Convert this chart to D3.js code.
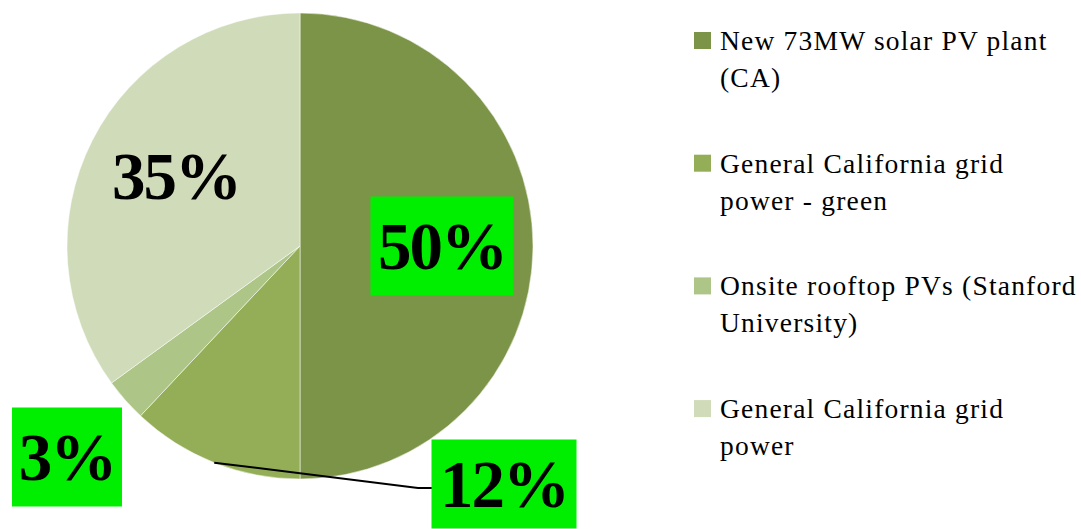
<!DOCTYPE html>
<html>
<head>
<meta charset="utf-8">
<script src="https://cdn.jsdelivr.net/npm/d3@7"></script>
<style>
  body { margin: 0; background: #fff; }
  text { font-family: "Palatino Linotype", "Book Antiqua", Palatino, "Liberation Serif", serif; }
</style>
</head>
<body>
<div id="target"></div>
<script>
const categories = [
  "New 73MW solar PV plant (CA)",
  "General California grid power - green",
  "Onsite rooftop PVs (Stanford University)",
  "General California grid power"
];
const values = [50, 12, 3, 35];
const legendLines = [
  ["New 73MW solar PV plant", "(CA)"],
  ["General California grid", "power - green"],
  ["Onsite rooftop PVs (Stanford", "University)"],
  ["General California grid", "power"]
];
const colors = ["#7c9447", "#93ae56", "#adc688", "#cfdbb9"];

const width = 1081,
  height = 529,
  cx = 300,
  cy = 246,
  radius = 233;

let svg = d3.select("#target").append("svg")
  .attr("width", width)
  .attr("height", height);

let pie = d3.pie().sort(null).value((d) => d);
let arcs = pie(values);
let arc = d3.arc().innerRadius(0).outerRadius(radius);

let g = svg.append("g")
  .attr("transform", `translate(${cx},${cy})`);

g.selectAll("path")
  .data(arcs)
  .enter().append("path")
  .attr("d", arc)
  .style("fill", (d, i) => colors[i])
  .style("stroke", "#fff")
  .style("stroke-opacity", 0.5)
  .style("stroke-width", 1);

// label boxes (offsets relative to pie centre)
const labelPos = [
  {x: 142, y: 0, w: 143, h: 99, box: true},
  {x: 204, y: 238, w: 145, h: 89, box: true},
  {x: -233, y: 211, w: 110, h: 99, box: true},
  {x: -124, y: -70, w: 0, h: 0, box: false}
];

// leader line for 12% slice
let mid = (arcs[1].startAngle + arcs[1].endAngle) / 2;
let p0 = [Math.sin(mid) * radius, -Math.cos(mid) * radius];
g.append("polyline")
  .attr("points", [p0, [118, 242], [132, 242]].map((p) => p.join(",")).join(" "))
  .style("fill", "none")
  .style("stroke", "#000")
  .style("stroke-width", 2);

let labels = g.selectAll("g.lbl")
  .data(arcs)
  .enter().append("g")
  .attr("class", "lbl")
  .attr("transform", (d, i) => `translate(${labelPos[i].x},${labelPos[i].y})`);

labels.filter((d, i) => labelPos[i].box)
  .append("rect")
  .attr("x", (d, i) => -labelPos[i].w / 2)
  .attr("y", (d, i) => -labelPos[i].h / 2)
  .attr("width", (d, i) => labelPos[i].w)
  .attr("height", (d, i) => labelPos[i].h)
  .style("fill", "#00ee00");

labels.append("text")
  .attr("text-anchor", "middle")
  .attr("dy", 23)
  .style("font-size", "67px")
  .style("font-weight", "bold")
  .style("letter-spacing", "-2px")
  .style("fill", "#000")
  .text((d) => d.data + "%");

// legend
let legend = svg.append("g")
  .attr("transform", "translate(694,40)");

let item = legend.selectAll("g")
  .data(categories)
  .enter().append("g")
  .attr("transform", (d, i) => `translate(0,${i * 122.7})`);

item.append("rect")
  .attr("x", 0)
  .attr("y", -8)
  .attr("width", 17)
  .attr("height", 17)
  .style("fill", (d, i) => colors[i]);

item.append("text")
  .attr("x", 26)
  .attr("y", 10)
  .style("font-size", "27.5px")
  .style("letter-spacing", "1.2px")
  .style("fill", "#000")
  .selectAll("tspan")
  .data((d, i) => legendLines[i])
  .enter().append("tspan")
  .attr("x", 26)
  .attr("dy", (d, j) => j === 0 ? 0 : 37)
  .text((d) => d);
</script>
</body>
</html>
